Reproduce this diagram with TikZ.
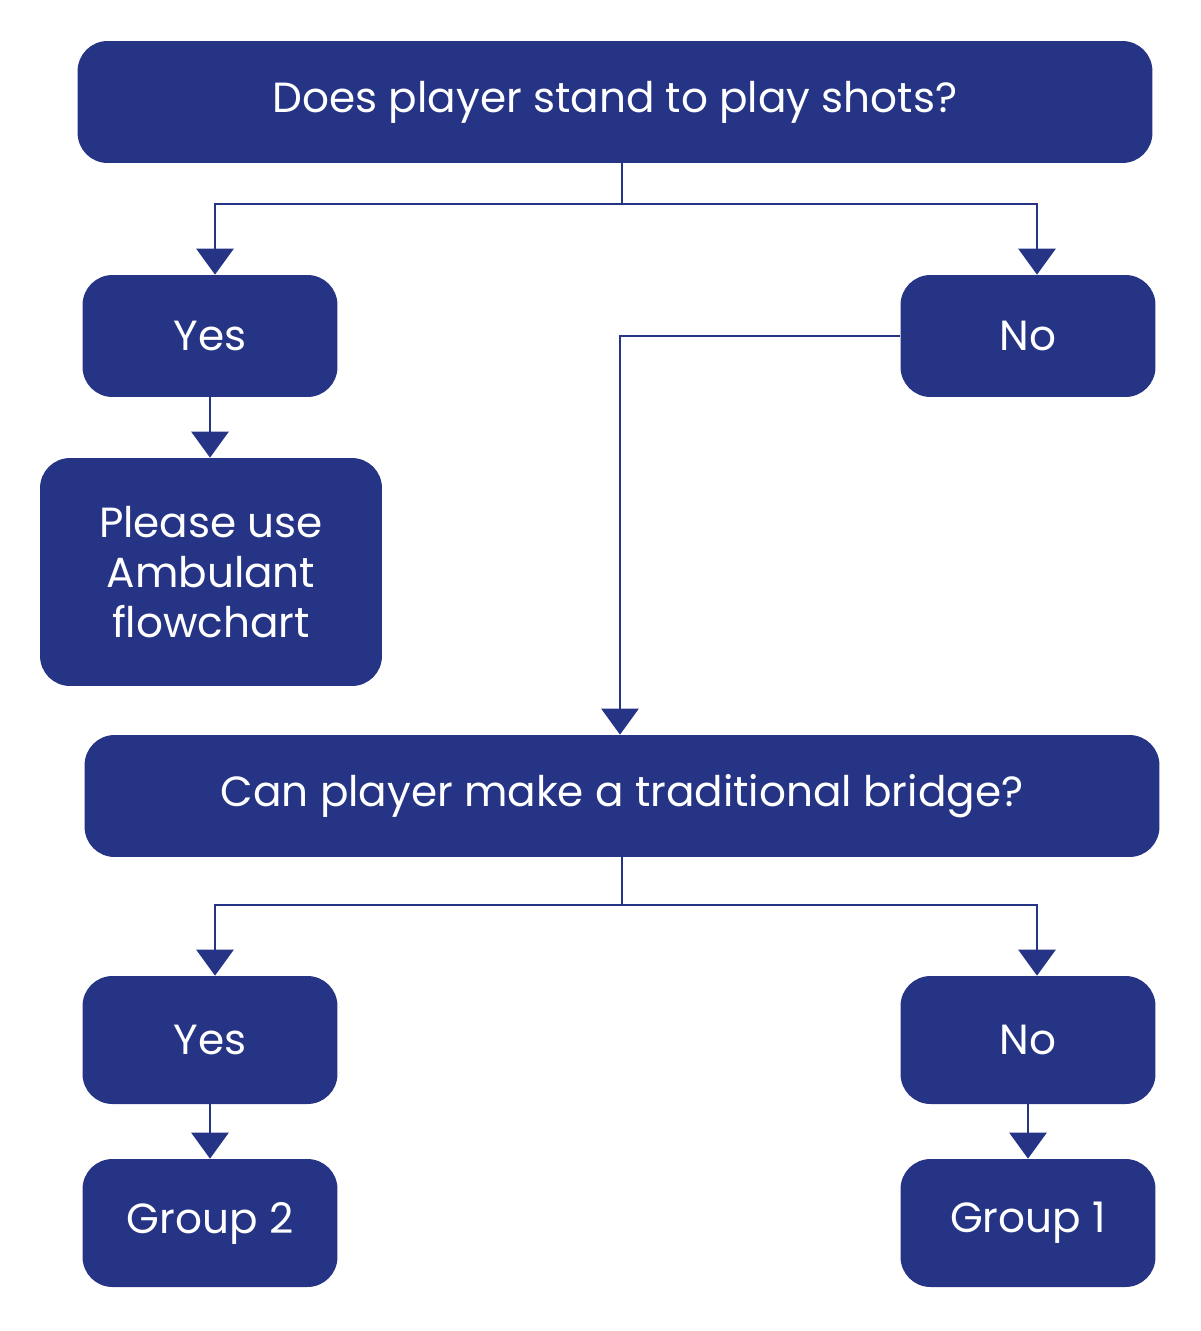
\documentclass[tikz,border=0pt]{standalone}
\usepackage{fontspec}
\setmainfont{Poppins}
\usepackage{tikz}
\usetikzlibrary{arrows.meta, positioning, calc}
\definecolor{navy}{HTML}{263485}

\begin{document}
\begin{tikzpicture}[x=0.02cm, y=-0.02cm,
    box/.style={draw=none, fill=navy, text=white, rounded corners=0.6cm, align=center,
      font=\fontsize{24}{28.5}\selectfont, inner sep=0pt},
    wide/.style={box, minimum width=21.5cm, minimum height=2.44cm},
    small/.style={box, minimum width=5.1cm, minimum height=2.44cm},
    link/.style={navy, line width=1.6pt},
    arrow/.style={link, -{Triangle[length=0.52cm, width=0.74cm]}}
  ]
    \useasboundingbox (0,0) rectangle (1200,1331);

    % First question
    \node[wide] (ask1) at (615, 102) {Does player stand to play shots?};
    \node[small] (yes1) at (210, 336) {Yes};
    \node[small] (no1) at (1028, 336) {No};
    \node[box, minimum width=6.84cm, minimum height=4.56cm] (ambulant) at (211, 572)
      {Please use\\Ambulant\\flowchart};

    % Second question
    \node[wide] (ask2) at (622, 796) {Can player make a traditional bridge?};
    \node[small, minimum height=2.56cm] (yes2) at (210, 1040) {Yes};
    \node[small, minimum height=2.56cm] (no2) at (1028, 1040) {No};
    \node[small, minimum height=2.56cm] (group2) at (210, 1223) {Group 2};
    \node[small, minimum height=2.56cm] (group1) at (1028, 1223) {Group 1};

    % Branch points
    \coordinate (split1) at (622, 204);
    \coordinate (split2) at (622, 905);

    % Arrows
    \draw[link] (split1 |- ask1.south) -- (split1);
    \draw[arrow] (split1) -| ($(yes1.north)+(5,0)$);
    \draw[arrow] (split1) -| ($(no1.north)+(9,0)$);
    \draw[arrow] (yes1) -- (ambulant.north -| yes1);
    \draw[arrow] (no1.west) -| ($(ask2.north)+(-2,0)$);

    \draw[link] (split2 |- ask2.south) -- (split2);
    \draw[arrow] (split2) -| ($(yes2.north)+(5,0)$);
    \draw[arrow] (split2) -| ($(no2.north)+(9,0)$);
    \draw[arrow] (yes2) -- (group2);
    \draw[arrow] (no2) -- (group1);

\end{tikzpicture}
\end{document}
